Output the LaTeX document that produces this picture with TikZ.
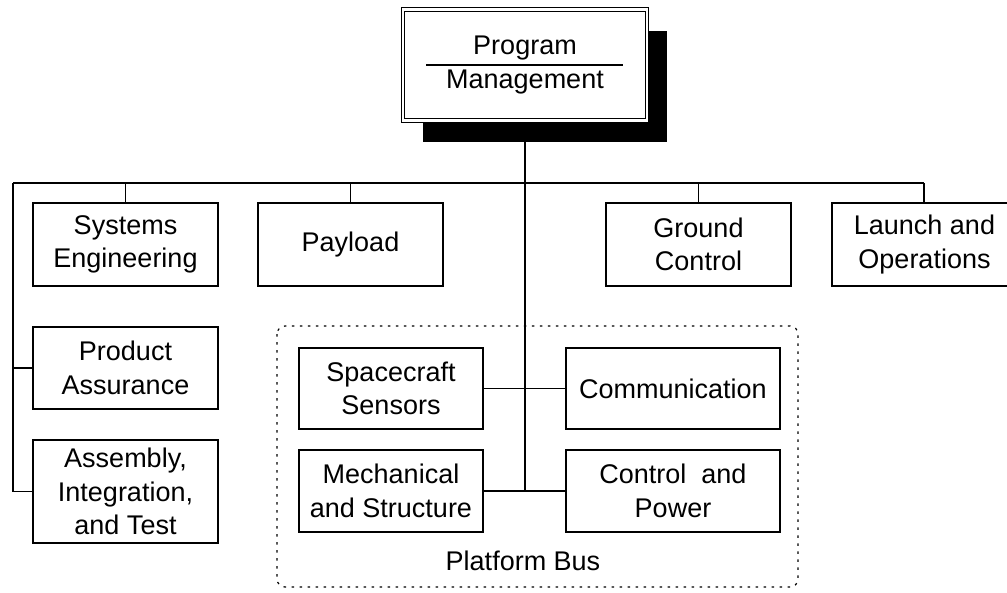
\documentclass[tikz,border=0pt]{standalone}
\usepackage{fontspec}
\setmainfont{Liberation Sans}
\usetikzlibrary{shadows}
\begin{document}
\begin{tikzpicture}[x=1pt,y=-1pt,
  box/.style={draw=black, line width=1.2pt, fill=white, inner sep=0pt,
    align=center, font=\fontsize{27}{33.5}\selectfont},
  conn/.style={line width=1.2pt}]
\useasboundingbox (0,0) rectangle (1007,592);
% platform bus container
\draw[line width=1.2pt, dash pattern=on 2.5pt off 5.5pt, rounded corners=8pt]
  (277,326) rectangle (798,587);
\node[font=\fontsize{27}{33.5}\selectfont] (pbus) at (523,561) {Platform Bus};
% top node
\node[box, double=white, double distance=2.2pt, line width=1.1pt,
  minimum width=243.5pt, minimum height=111pt,
  drop shadow={shadow xshift=20pt, shadow yshift=-21pt, fill=black, opacity=1},
  font=\fontsize{27}{34}\selectfont] (pm) at (525,65) {};
\node[font=\fontsize{27}{34}\selectfont] (pmt1) at (525,48) {Program};
\node[font=\fontsize{27}{34}\selectfont] (pmt2) at (525,82) {Management};
\draw[line width=1.2pt] ([xshift=-99pt]pm.center) -- ([xshift=98pt]pm.center);
% first level
\node[box, minimum width=185pt, minimum height=83pt] (se) at (125.5,244.5) {Systems\\Engineering};
\node[box, minimum width=185pt, minimum height=83pt] (pl) at (350.5,244.5) {Payload};
\node[box, minimum width=185pt, minimum height=83pt] (gc) at (698.5,244.5) {Ground\\Control};
\node[box, minimum width=185pt, minimum height=83pt] (lo) at (924.5,244.5) {Launch and\\Operations};
\node[box, minimum width=185pt, minimum height=82pt] (pa) at (125.5,368) {Product\\Assurance};
\node[box, minimum width=185pt, minimum height=103pt] (ait) at (125.5,491.5) {Assembly,\\Integration,\\and Test};
% platform bus nodes
\node[box, minimum width=184pt, minimum height=81pt] (ss) at (391,388.5) {Spacecraft\\Sensors};
\node[box, minimum width=214pt, minimum height=81pt] (com) at (673,388.5) {Communication};
\node[box, minimum width=184pt, minimum height=82pt] (ms) at (391,491) {Mechanical\\and Structure};
\node[box, minimum width=214pt, minimum height=82pt] (cp) at (673,491) {Control~~and\\Power};
% connectors
\coordinate (busL) at (13,183);
\coordinate (busR) at (924,183);
\coordinate (bot) at (525,491);
\draw[conn] (pm.south) ++(0,21) -- (bot);
\draw[conn] (busL) -- (busR);
\draw[conn] (se.north) -- (se.north |- busL);
\draw[conn] (pl.north) -- (pl.north |- busL);
\draw[conn] (gc.north) -- (gc.north |- busL);
\draw[conn] (busR) -- (busR |- lo.north);
\draw[conn] (busL) -- (busL |- ait.west) -- (ait.west);
\draw[conn] (busL |- pa.west) -- (pa.west);
\draw[conn] (ss.east) -- (com.west);
\draw[conn] (ms.east) -- (cp.west);
\end{tikzpicture}
\end{document}
